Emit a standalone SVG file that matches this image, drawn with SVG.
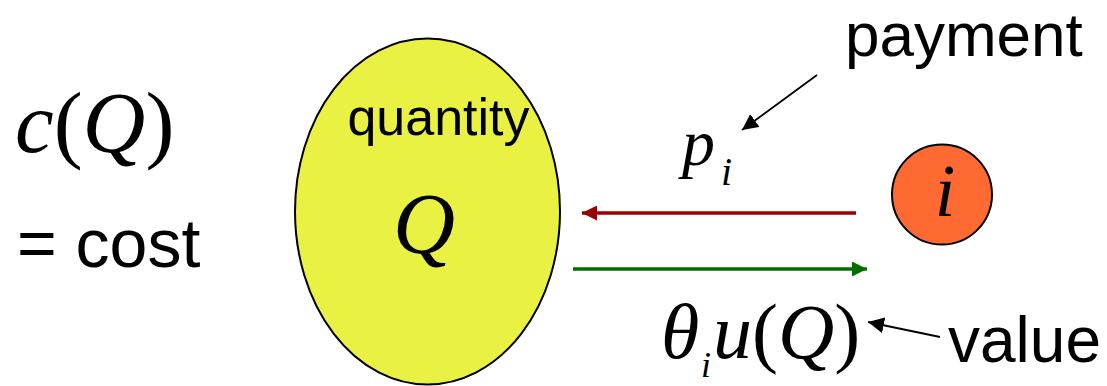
<svg xmlns="http://www.w3.org/2000/svg" width="1107" height="386" viewBox="0 0 1107 386">
<defs>
<style>
.sans{font-family:"Liberation Sans",Arial,sans-serif;fill:#000}
.math{font-family:"Liberation Serif","Times New Roman",serif;fill:#000}
.it{font-style:italic}
</style>
<marker id="hRed" viewBox="0 0 10 10" refX="10" refY="5" markerWidth="15" markerHeight="15" markerUnits="userSpaceOnUse" orient="auto"><path d="M0,0L10,5L0,10Z" fill="#990000"/></marker>
<marker id="hGreen" viewBox="0 0 10 10" refX="10" refY="5" markerWidth="15" markerHeight="15" markerUnits="userSpaceOnUse" orient="auto"><path d="M0,0L10,5L0,10Z" fill="#006f00"/></marker>
<marker id="hBlack" viewBox="0 0 10 10" refX="10" refY="5" markerWidth="16" markerHeight="16" markerUnits="userSpaceOnUse" orient="auto"><path d="M0,0L10,5L0,10Z" fill="#000"/></marker>
</defs>
<rect width="1107" height="386" fill="#fff"/>

<g id="cost">
<text class="math" x="15" y="152" font-size="87"><tspan class="it">c</tspan>(<tspan class="it">Q</tspan>)</text>
<text class="sans" x="17" y="267" font-size="68">= cost</text>
</g>

<g id="quantity">
<ellipse cx="427.5" cy="211.5" rx="132.5" ry="173" fill="#e9f142" stroke="#000" stroke-width="2"/>
<text class="sans" x="438.5" y="135" font-size="52" text-anchor="middle">quantity</text>
<text class="math it" x="393" y="253" font-size="86">Q</text>
</g>

<g id="agent">
<circle cx="942" cy="194.5" r="50" fill="#ff6a33" stroke="#000" stroke-width="2"/>
<text class="math it" x="945" y="216" font-size="74" text-anchor="middle">i</text>
</g>

<g id="connectors">
<line x1="856" y1="213" x2="582" y2="213" stroke="#990000" stroke-width="3.5" marker-end="url(#hRed)"/>
<line x1="573" y1="269" x2="867" y2="269" stroke="#006f00" stroke-width="3.5" marker-end="url(#hGreen)"/>
<line x1="817" y1="75" x2="742" y2="130" stroke="#000" stroke-width="1.8" marker-end="url(#hBlack)"/>
<line x1="940" y1="337" x2="868" y2="322" stroke="#000" stroke-width="1.8" marker-end="url(#hBlack)"/>
</g>

<g id="labels">
<text class="math it" x="682" y="165" font-size="66">p</text>
<text class="math it" x="721" y="185" font-size="40">i</text>
<text class="sans" x="845" y="56" font-size="62">payment</text>
<text class="math" x="661" y="358" font-size="78"><tspan class="it">θ</tspan></text>
<text class="math it" x="701" y="377" font-size="36">i</text>
<text class="math" x="713" y="358" font-size="78"><tspan class="it">u</tspan>(<tspan class="it">Q</tspan>)</text>
<text class="sans" x="948" y="362" font-size="64">value</text>
</g>
</svg>
